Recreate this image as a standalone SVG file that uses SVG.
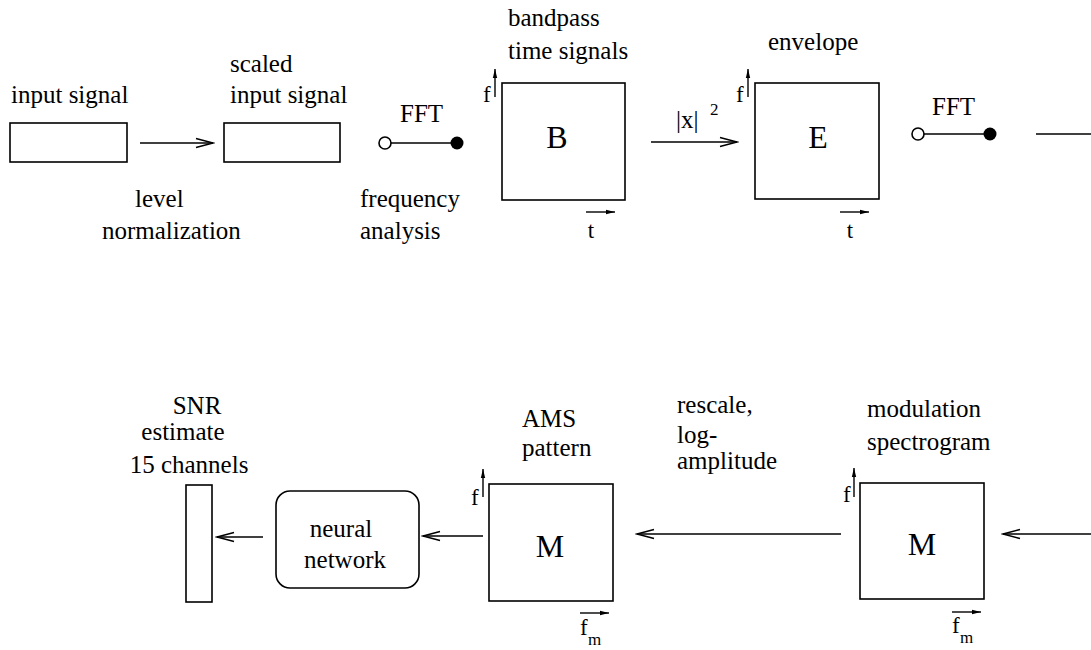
<svg xmlns="http://www.w3.org/2000/svg" width="1091" height="650" viewBox="0 0 1091 650" font-family="'Liberation Serif', Tinos, 'Times New Roman', 'DejaVu Serif', serif">
<style>
text{font-family:"Liberation Serif",Tinos,"Times New Roman","DejaVu Serif",serif;fill:#000;font-size:25px}
.big{font-size:32px;text-anchor:middle}
.ax{font-size:23px}
.mid{text-anchor:middle}
.sub{font-size:17px}
.box{fill:#fff;stroke:#000;stroke-width:1.6}
.ln{fill:none;stroke:#000;stroke-width:1.6}
.axl{fill:none;stroke:#000;stroke-width:1.4}
</style>
<defs>
<marker id="open" markerUnits="userSpaceOnUse" markerWidth="20" markerHeight="12" refX="18" refY="6" orient="auto">
<path d="M1,1.5 L18,6 L1,10.5" fill="none" stroke="#000" stroke-width="1.5"/>
</marker>
<marker id="small" markerUnits="userSpaceOnUse" markerWidth="10" markerHeight="6" refX="9" refY="3" orient="auto">
<path d="M0,0.8 L9,3 L0,5.2 Z" fill="#000"/>
</marker>
</defs>
<g id="connectors">
<line class="ln" x1="140" y1="143" x2="213" y2="143" marker-end="url(#open)"/>
<line class="ln" x1="391" y1="143" x2="451" y2="143"/>
<circle cx="385" cy="143" r="6" fill="#fff" stroke="#000" stroke-width="1.6"/>
<circle cx="457" cy="143" r="6.5" fill="#000"/>
<line class="ln" x1="651" y1="142" x2="737" y2="142" marker-end="url(#open)"/>
<line class="ln" x1="924" y1="134" x2="984" y2="134"/>
<circle cx="918" cy="134" r="6" fill="#fff" stroke="#000" stroke-width="1.6"/>
<circle cx="990" cy="134" r="6.5" fill="#000"/>
<line class="ln" x1="1036" y1="134" x2="1091" y2="134"/>
<line class="ln" x1="1091" y1="534" x2="1003" y2="534" marker-end="url(#open)"/>
<line class="ln" x1="841" y1="534" x2="637" y2="534" marker-end="url(#open)"/>
<line class="ln" x1="483" y1="536" x2="423" y2="536" marker-end="url(#open)"/>
<line class="ln" x1="263" y1="537" x2="217" y2="537" marker-end="url(#open)"/>
</g>
<g id="input">
<text x="11" y="103">input signal</text>
<rect class="box" x="10" y="123" width="117" height="39"/>
</g>
<g id="scaled">
<text x="230" y="72">scaled</text>
<text x="230" y="103">input signal</text>
<rect class="box" x="224" y="123" width="116" height="39"/>
</g>
<g id="label-level">
<text x="135" y="207">level</text>
<text x="102" y="239">normalization</text>
</g>
<g id="fft1">
<text x="400" y="122">FFT</text>
<text x="360" y="207">frequency</text>
<text x="360" y="239">analysis</text>
</g>
<g id="B">
<text x="508" y="26">bandpass</text>
<text x="508" y="59">time signals</text>
<rect class="box" x="502" y="83" width="123" height="117"/>
<text class="big" x="557" y="148">B</text>
<line class="axl" x1="495" y1="97" x2="495" y2="69" marker-end="url(#small)"/>
<text class="ax" x="483" y="102">f</text>
<line class="axl" x1="586" y1="212" x2="615" y2="212" marker-end="url(#small)"/>
<text class="ax mid" x="591" y="238">t</text>
</g>
<g id="sq">
<text x="676" y="128">|x|</text>
<text class="sub" x="710" y="115">2</text>
</g>
<g id="E">
<text x="768" y="50">envelope</text>
<rect class="box" x="755" y="83" width="124" height="116"/>
<text class="big" x="818" y="148">E</text>
<line class="axl" x1="748" y1="97" x2="748" y2="69" marker-end="url(#small)"/>
<text class="ax" x="736" y="102">f</text>
<line class="axl" x1="840" y1="212" x2="869" y2="212" marker-end="url(#small)"/>
<text class="ax mid" x="850" y="238">t</text>
</g>
<g id="fft2">
<text x="932" y="115">FFT</text>
</g>
<g id="MS">
<text x="867" y="417">modulation</text>
<text x="867" y="450">spectrogram</text>
<rect class="box" x="860" y="483" width="124" height="116"/>
<text class="big" x="922" y="555">M</text>
<line class="axl" x1="854" y1="497" x2="854" y2="468" marker-end="url(#small)"/>
<text class="ax" x="843" y="502">f</text>
<line class="axl" x1="952" y1="612" x2="981" y2="612" marker-end="url(#small)"/>
<text class="ax" x="952" y="633">f</text>
<text class="sub" x="960" y="643">m</text>
</g>
<g id="rescale">
<text x="677" y="413">rescale,</text>
<text x="677" y="443">log-</text>
<text x="677" y="469">amplitude</text>
</g>
<g id="AMS">
<text x="522" y="427">AMS</text>
<text x="522" y="456">pattern</text>
<rect class="box" x="489" y="484" width="124" height="117"/>
<text class="big" x="550" y="557">M</text>
<line class="axl" x1="483" y1="497" x2="483" y2="469" marker-end="url(#small)"/>
<text class="ax" x="471" y="505">f</text>
<line class="axl" x1="580" y1="613" x2="609" y2="613" marker-end="url(#small)"/>
<text class="ax" x="580" y="635">f</text>
<text class="sub" x="588" y="645">m</text>
</g>
<g id="nn">
<rect class="box" x="276" y="491" width="143" height="97" rx="14"/>
<text class="mid" x="341" y="537">neural</text>
<text class="mid" x="345" y="568">network</text>
</g>
<g id="snr">
<text class="mid" x="197" y="414">SNR</text>
<text class="mid" x="183" y="440">estimate</text>
<text class="mid" x="189" y="473">15 channels</text>
<rect class="box" x="186" y="485" width="26" height="117"/>
</g>
</svg>
